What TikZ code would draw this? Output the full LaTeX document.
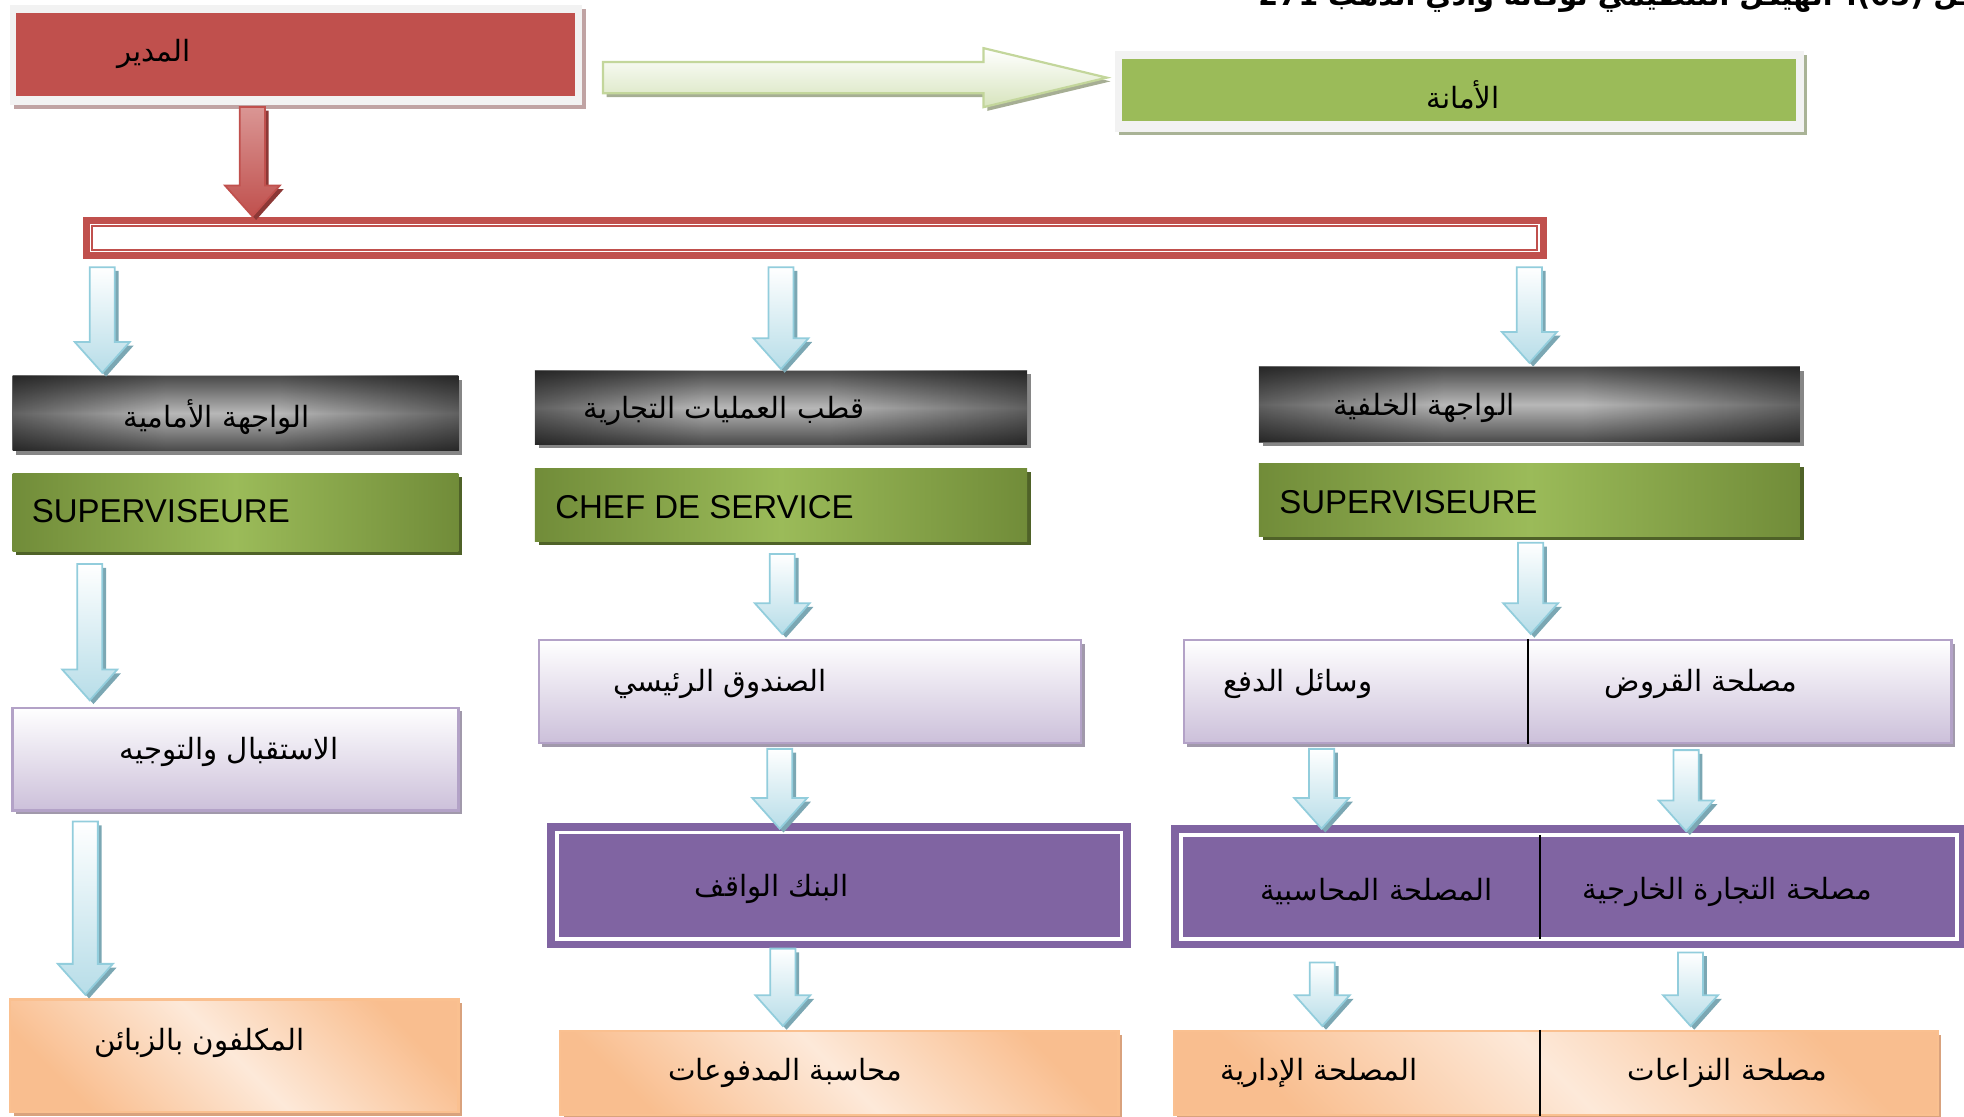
\documentclass[tikz,border=0pt]{standalone}
\usepackage{fontspec}
\setmainfont{Liberation Sans}
\newfontfamily\arabicfont[Script=Arabic]{DejaVu Sans}
\TeXXeTstate=1
\usepackage{tikz}
\usetikzlibrary{shadows, fit, calc, positioning, fadings}

\pgfdeclarehorizontalshading{cabecalho}{100bp}{color(0bp)=(black); color(10bp)=(black!95);
  color(25bp)=(black!62); color(42bp)=(black!28); color(55bp)=(black!28);
  color(75bp)=(black!62); color(90bp)=(black!95); color(100bp)=(black)}
\tikzfading[name=bordasv, top color=transparent!40, bottom color=transparent!40, middle color=transparent!100]

\newcommand{\setabloco}[3][setaazul]{%
  \path[#1] let \p1=(#2), \p2=(#3) in
    (\x1-5.7pt,\y1) -- (\x1+5.7pt,\y1) -- (\x1+5.7pt,\y2+14pt)
    -- (\x1+12.5pt,\y2+14pt) -- (\x1,\y2) -- (\x1-12.5pt,\y2+14pt)
    -- (\x1-5.7pt,\y2+14pt) -- cycle;}

\begin{document}
\begin{tikzpicture}[x=0.02cm, y=-0.02cm,
  sombra/.style={drop shadow={shadow xshift=1.7pt, shadow yshift=-1.7pt, opacity=1, fill=#1}},
  caixa/.style={rectangle, inner sep=0pt},
  moldura/.style={caixa, fill=moldcinza},
  preta/.style={caixa, shade, shading=cabecalho, sombra=gray!95, postaction={fill=black, path fading=bordasv}},
  oliva/.style={caixa, left color=olivaesc, right color=olivaesc, middle color=olivaclaro, sombra=olivasombra},
  lilas/.style={caixa, top color=white, bottom color=lilasfundo, draw=lilasborda, line width=1pt, sombra=lilassombra},
  roxa/.style={caixa, fill=roxo},
  laranja/.style={caixa, top color=laranjaforte, bottom color=laranjaforte, middle color=laranjaclaro, shading angle=-45, draw=laranjaborda, line width=1pt, sombra=laranjasombra},
  rotulo/.style={font=\arabicfont\fontsize{13.3}{16}\selectfont, inner sep=0pt},
  latino/.style={font=\fontsize{15}{18}\selectfont, inner sep=0pt, anchor=west},
  divisoria/.style={line width=0.9pt, black},
  linhabranca/.style={draw=white, line width=1.8pt},
  setaazul/.style={top color=white, bottom color=azulclaro, draw=azulborda, line width=0.8pt, sombra=azulsombra},
  setavermelha/.style={top color=vermelhoclaro, bottom color=vermelho, draw=vermelho, line width=0.8pt, sombra=vermelhosombra},
  setaverde/.style={top color=white, bottom color=verdeseta, draw=verdeborda, line width=1pt, sombra=verdesombra}]
% --- CORES HEX ---
\definecolor{vermelho}{HTML}{C0504D}
\definecolor{vermelhoclaro}{HTML}{DA9694}
\definecolor{vermelhosombra}{HTML}{8C3836}
\definecolor{moldcinza}{HTML}{F2F2F2}
\definecolor{moldsombra}{HTML}{C0A3A3}
\definecolor{moldsombraverde}{HTML}{A9B396}
\definecolor{verde}{HTML}{9BBB59}
\definecolor{verdeseta}{HTML}{D7E4BD}
\definecolor{verdeborda}{HTML}{C3D69B}
\definecolor{verdesombra}{HTML}{A6AE94}
\definecolor{olivaesc}{HTML}{718C39}
\definecolor{olivaclaro}{HTML}{9BBB59}
\definecolor{olivasombra}{HTML}{4F6228}
\definecolor{lilasfundo}{HTML}{CCC0DA}
\definecolor{lilasborda}{HTML}{B3A2C7}
\definecolor{lilassombra}{HTML}{A199AB}
\definecolor{roxo}{HTML}{8064A2}
\definecolor{laranjaforte}{HTML}{F9BE8F}
\definecolor{laranjaclaro}{HTML}{FDE9D9}
\definecolor{laranjaborda}{HTML}{FAC090}
\definecolor{laranjasombra}{HTML}{D9A27D}
\definecolor{azulclaro}{HTML}{B7DDE8}
\definecolor{azulborda}{HTML}{92CDDC}
\definecolor{azulsombra}{HTML}{7BA7B3}

\useasboundingbox (0,0) rectangle (1568,891);
\clip (0,0) rectangle (1568,891);

% LAYER 0: Titulo (cortado no topo)
\node[rotulo, font=\arabicfont\bfseries\fontsize{13}{16}\selectfont, anchor=base east] (titulo) at (1600,4) {\beginR شكل \beginL(03)\endL: الهيكل التنظيمي لوكالة وادي الذهب \beginL271\endL\endR};

% LAYER 1: Diretor e secretariado
\node[moldura, sombra=moldsombra, fit={(8,4)(465,84)}] (diretormold) {};
\node[caixa, fill=vermelho, fit={(13,10)(459,77)}] (diretor) {};
\node[rotulo] (tdiretor) at (123,43) {\beginR المدير\endR};

\node[moldura, sombra=moldsombraverde, fit={(890,41)(1440,105)}] (secmold) {};
\node[caixa, fill=verde, fit={(896,47)(1434,97)}] (secretaria) {};
\node[rotulo] (tsecretaria) at (1168,76) {\beginR الأمانة\endR};

\path[setaverde] let \p1=($(diretormold.east)+(16,18)$), \p2=($(secmold.west)+(-6,-10)$) in
  (\x1,\y1+7.1pt) -- (\x2-56pt,\y1+7.1pt) -- (\x2-56pt,\y1+13.4pt) -- (\x2,\y1)
  -- (\x2-56pt,\y1-13.4pt) -- (\x2-56pt,\y1-7.1pt) -- (\x1,\y1-7.1pt) -- cycle;

% LAYER 2: Barra de distribuicao
\node[caixa, fill=vermelho, fit={(66,173)(1235,207)}] (barra) {};
\fill[white] ($(barra.north west)+(6,6)$) rectangle ($(barra.south east)+(-6,-6)$);
\draw[vermelho, line width=1pt] ($(barra.north west)+(8,8)$) rectangle ($(barra.south east)+(-8,-8)$);
\setabloco[setavermelha]{$(diretormold.south)+(-35,1)$}{barra.north}

% LAYER 3: Cabecalhos
\node[preta, fit={(10,300)(366,360)}] (frontal) {};
\node[rotulo] (tfrontal) at (173,333) {\beginR الواجهة الأمامية\endR};
\node[preta, fit={(427,296)(820,355)}] (polo) {};
\node[rotulo] (tpolo) at (578,328) {\beginR قطب العمليات التجارية\endR};
\node[preta, fit={(1005,293)(1437,353)}] (traseira) {};
\node[rotulo] (ttraseira) at (1137,326) {\beginR الواجهة الخلفية\endR};

\setabloco{$(barra.south west)+(16,6)$}{$(frontal.north)+(0,-2)$}
\setabloco{$(polo.north |- barra.south)+(0,6)$}{$(polo.north)+(0,-1)$}
\setabloco{$(traseira.north |- barra.south)+(0,6)$}{$(traseira.north)+(0,-3)$}

% LAYER 4: Chefias
\node[oliva, fit={(10,378)(366,440)}] (superv1) {};
\node[latino] (tsuperv1) at (25,408) {SUPERVISEURE};
\node[oliva, fit={(427,374)(820,432)}] (chefe) {};
\node[latino] (tchefe) at (443,405) {CHEF DE SERVICE};
\node[oliva, fit={(1005,370)(1437,428)}] (superv2) {};
\node[latino] (tsuperv2) at (1021,401) {SUPERVISEURE};

% LAYER 5: Servicos (lilas)
\node[lilas, fit={(10,565)(366,647)}] (acolhimento) {};
\node[rotulo] (tacolhimento) at (183,600) {\beginR الاستقبال والتوجيه\endR};
\node[lilas, fit={(430,511)(863,593)}] (cofre) {};
\node[rotulo] (tcofre) at (575,546) {\beginR الصندوق الرئيسي\endR};
\node[lilas, fit={(945,511)(1558,593)}] (meios) {};
\draw[divisoria] ($(meios.north west)+(276,0)$) -- ($(meios.south west)+(276,0)$);
\node[rotulo] (tmeios) at (1036,546) {\beginR وسائل الدفع\endR};
\node[rotulo] (temprestimos) at (1358,546) {\beginR مصلحة القروض\endR};

\setabloco{$(superv1.south west)+(62,10)$}{$(acolhimento.north)+(0,-5)$}
\setabloco{$(chefe.south)+(1,10)$}{$(cofre.north)+(0,-4)$}
\setabloco{$(superv2.south)+(1,5)$}{$(meios.north)+(0,-4)$}

% LAYER 6: Servicos (roxo)
\node[roxa, fit={(437,657)(903,757)}] (banco) {};
\draw[linhabranca] ($(banco.north west)+(8,8)$) rectangle ($(banco.south east)+(-8,-8)$);
\node[rotulo] (tbanco) at (616,710) {\beginR البنك الواقف\endR};
\node[roxa, fit={(935,659)(1570,757)}] (servicos) {};
\draw[linhabranca] ($(servicos.north west)+(8,8)$) rectangle ($(servicos.south east)+(-8,-8)$);
\draw[divisoria] ($(servicos.north west)+(294.5,8)$) -- ($(servicos.south west)+(294.5,-8)$);
\node[rotulo] (tcontabil) at (1099,712) {\beginR المصلحة المحاسبية\endR};
\node[rotulo] (texterior) at (1379,712) {\beginR مصلحة التجارة الخارجية\endR};

\setabloco{$(cofre.south)+(-24,4)$}{$(banco.north)+(0,5)$}
\setabloco{$(meios.south west)+(111,4)$}{$(servicos.north)+(0,3)$}
\setabloco{$(meios.south west)+(402,5)$}{$(servicos.north)+(0,5)$}

% LAYER 7: Servicos (laranja)
\node[laranja, fit={(8,798)(366,888)}] (encarregados) {};
\node[rotulo] (tencarregados) at (159,833) {\beginR المكلفون بالزبائن\endR};
\node[laranja, fit={(447,823)(893,890)}] (pagamentos) {};
\node[rotulo] (tpagamentos) at (627,857) {\beginR محاسبة المدفوعات\endR};
\node[laranja, fit={(937,823)(1547,890)}] (administrativa) {};
\draw[divisoria] ($(administrativa.north west)+(293,0)$) -- ($(administrativa.south west)+(293,0)$);
\node[rotulo] (tadministrativa) at (1053,857) {\beginR المصلحة الإدارية\endR};
\node[rotulo] (tcontencioso) at (1379,857) {\beginR مصلحة النزاعات\endR};

\setabloco{$(acolhimento.south west)+(59,8)$}{$(encarregados.north)+(0,-3)$}
\setabloco{$(banco.south)+(-45,0)$}{$(pagamentos.north)+(0,-3)$}
\setabloco{$(servicos.south west)+(121,11)$}{$(administrativa.north)+(0,-3)$}
\setabloco{$(servicos.south west)+(415,3)$}{$(administrativa.north)+(0,-3)$}
\end{tikzpicture}
\end{document}
